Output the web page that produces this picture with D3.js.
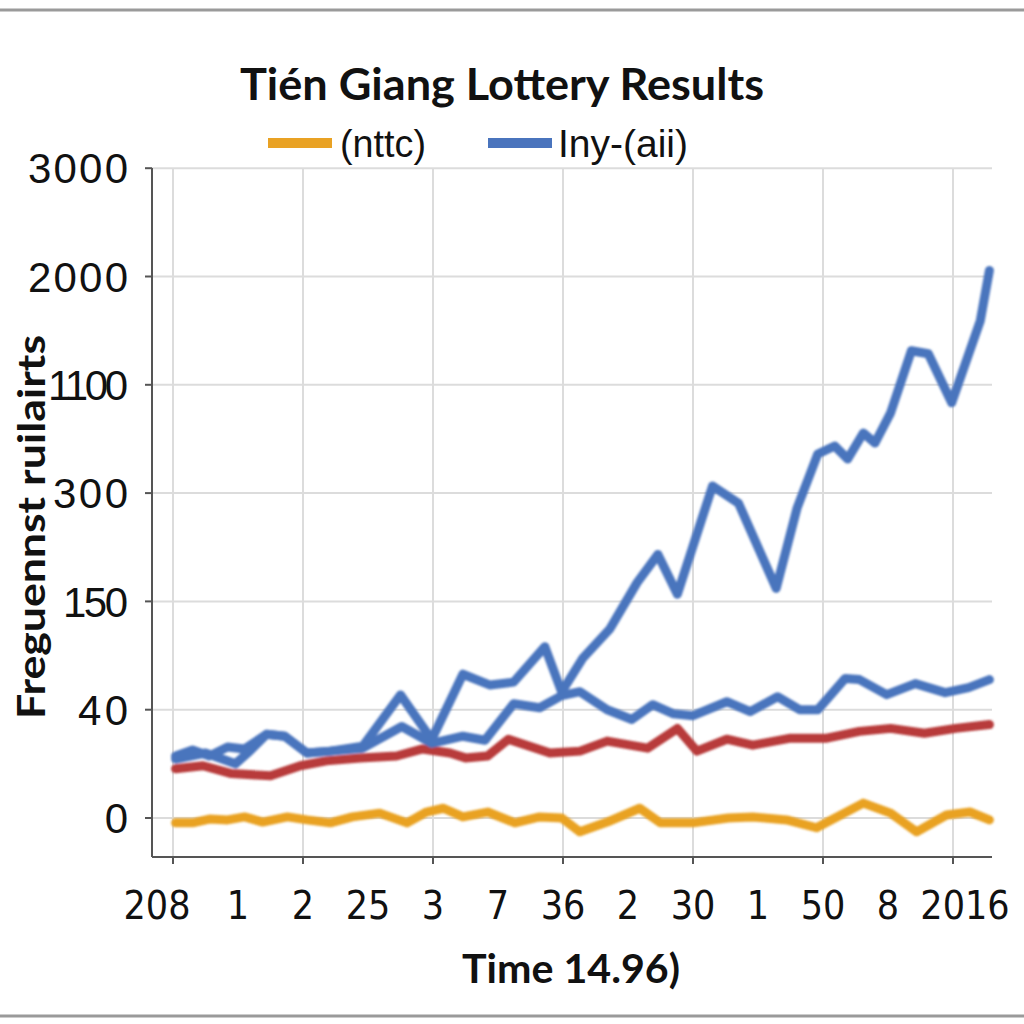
<!DOCTYPE html>
<html>
<head>
<meta charset="utf-8">
<script src="https://cdn.jsdelivr.net/npm/d3@7"></script>
<style>
  html, body { margin: 0; padding: 0; background: #fff; }
  svg { display: block; }
</style>
</head>
<body>
<script>
// ---- Data ----
const titleText = "Tién Giang Lottery Results";
const legendLabels = ["(nttc)", "Iny-(aii)"];
const xTitle = "Time 14.96)";
const yTitle = "Freguennst ruilairts";
const xLabels = ["208","1","2","25","3","7","36","2","30","1","50","8","2016"];
const yTicks = [0, 40, 150, 300, 1100, 2000, 3000];

// [time, value]
const seriesOrange = [[0.2,-1.8],[1.5,-1.8],[2.8,-0.4],[4.2,-0.7],[5.5,0.4],[6.9,-1.5],[8.8,0.4],[10.3,-0.7],[12.1,-1.8],[13.8,0.4],[15.9,1.8],[18.0,-1.8],[19.5,2.2],[20.8,3.6],[22.3,0.4],[24.2,2.2],[26.3,-1.8],[28.2,0.4],[29.9,0],[31.3,-5.1],[33.4,-1.5],[35.9,3.6],[37.5,-1.8],[40.0,-1.8],[42.7,0],[44.6,0.4],[47.2,-0.7],[49.5,-3.6],[53.1,5.5],[55.2,1.8],[57.2,-5.1],[59.5,1.1],[61.3,2.2],[62.8,-0.7]];
const seriesRed = [[0.2,18.2],[2.3,19.3],[4.5,16.4],[7.5,15.6],[9.8,19.3],[11.8,21.1],[14.4,22.2],[17.2,22.9],[19.2,25.5],[21.3,24.0],[22.5,22.2],[24.2,22.9],[25.8,29.1],[26.9,27.3],[29.0,24.0],[31.3,24.7],[33.4,28.4],[36.5,25.8],[38.8,33.1],[40.3,24.7],[42.6,29.1],[44.6,26.9],[47.5,29.5],[50.3,29.5],[52.8,32.0],[55.2,33.1],[57.8,31.3],[60.2,33.1],[62.8,34.5]];
const seriesBlueLow = [[0.2,21.8],[2.5,24.0],[4.8,20.0],[5.9,24.7],[7.2,30.9],[8.6,30.2],[10.3,24.0],[12.1,24.7],[14.6,25.8],[17.6,33.8],[19.9,27.6],[22.3,30.2],[24.0,28.7],[26.2,46.1],[28.2,42.0],[29.9,54.3],[31.3,58.3],[33.4,40.0],[35.3,36.4],[36.9,45.1],[38.5,38.5],[40.0,37.8],[42.6,48.1],[44.4,39.3],[46.5,53.2],[48.2,40.0],[49.6,40.0],[51.7,71.6],[52.8,70.6],[54.9,55.3],[57.1,66.5],[59.4,57.3],[61.2,62.4],[62.8,70.6]];
const seriesBlueHigh = [[0.2,22.9],[1.5,25.1],[2.8,22.9],[4.2,26.2],[5.5,25.5],[7.2,30.9],[8.6,30.2],[10.3,24.0],[12.1,24.7],[14.6,26.5],[17.5,55],[19.9,29],[22.3,76],[24.4,65],[26.2,68],[28.6,104],[29.9,58],[31.5,92],[33.6,122],[35.7,176],[37.3,215],[38.8,160],[41.5,352],[43.5,286],[46.4,168],[48.0,279],[49.6,589],[50.9,648],[51.9,552],[53.1,744],[54.0,670],[55.2,893],[56.8,1383],[58.1,1358],[59.9,967],[62.1,1633],[62.8,2056]];

// ---- Layout ----
const W = 1024, H = 1024;
const plotLeft = 152, plotRight = 992, plotTop = 168, plotBottom = 857;
const yZero = 818, yStep = 108.3;

const svg = d3.select("body").append("svg").attr("width", W).attr("height", H);

const defs = svg.append("defs");
defs.append("filter").attr("id", "soft").append("feGaussianBlur").attr("stdDeviation", 0.8);

// outer frame lines
svg.append("line").attr("x1", 0).attr("x2", W).attr("y1", 10).attr("y2", 10)
  .attr("stroke", "#9a9a9a").attr("stroke-width", 3);
svg.append("line").attr("x1", 0).attr("x2", W).attr("y1", 1016).attr("y2", 1016)
  .attr("stroke", "#9a9a9a").attr("stroke-width", 3);

const x = d3.scaleLinear().domain([0, 60]).range([173, 953]);
const y = d3.scaleLinear().domain(yTicks).range(yTicks.map((d, i) => yZero - i * yStep));

// gridlines
const grid = svg.append("g");
grid.selectAll("line.h").data(yTicks).join("line")
  .attr("x1", plotLeft).attr("x2", plotRight)
  .attr("y1", d => y(d)).attr("y2", d => y(d))
  .attr("stroke", "#dcdcdc").attr("stroke-width", 2);
const vTicks = d3.range(0, 61, 10);
grid.selectAll("line.v").data(vTicks).join("line")
  .attr("x1", d => x(d)).attr("x2", d => x(d))
  .attr("y1", plotTop).attr("y2", plotBottom)
  .attr("stroke", "#dcdcdc").attr("stroke-width", 2);

// axes
const axisColor = "#555";
svg.append("line").attr("x1", plotLeft).attr("x2", plotLeft).attr("y1", plotTop).attr("y2", plotBottom)
  .attr("stroke", axisColor).attr("stroke-width", 2);
svg.append("line").attr("x1", plotLeft).attr("x2", plotRight).attr("y1", plotBottom).attr("y2", plotBottom)
  .attr("stroke", axisColor).attr("stroke-width", 2);
svg.selectAll("line.yt").data(yTicks).join("line")
  .attr("x1", plotLeft - 7).attr("x2", plotLeft)
  .attr("y1", d => y(d)).attr("y2", d => y(d))
  .attr("stroke", axisColor).attr("stroke-width", 2);
svg.selectAll("line.xt").data(vTicks).join("line")
  .attr("x1", d => x(d)).attr("x2", d => x(d))
  .attr("y1", plotBottom).attr("y2", plotBottom + 7)
  .attr("stroke", axisColor).attr("stroke-width", 2);

// y labels (proportional digit widths: "1" narrower)
const labelWidth = s => String(s).split("").reduce((a, c) => a + (c === "1" ? 15 : 25), 0);
svg.selectAll("text.yl").data(yTicks).join("text")
  .attr("x", 128).attr("y", d => y(d)).attr("dy", "0.36em")
  .attr("text-anchor", "end")
  .attr("font-family", "Liberation Sans, Arial, sans-serif")
  .attr("font-size", 42).attr("fill", "#111")
  .attr("textLength", d => labelWidth(d)).attr("lengthAdjust", "spacing")
  .text(d => d);

// x labels
const xOffsets = xLabels.map((d, i) => i === 0 ? -16 : (i === xLabels.length - 1 ? 12 : 0));
svg.selectAll("text.xl").data(xLabels).join("text")
  .attr("x", (d, i) => x(i * 5) + xOffsets[i]).attr("y", 905).attr("dy", "0.36em")
  .attr("text-anchor", "middle")
  .attr("font-family", "Liberation Sans Narrow, DejaVu Sans Condensed, Arial, sans-serif")
  .attr("font-size", 39).attr("fill", "#111")
  .text(d => d);

// lines
const line = d3.line().x(d => x(d[0])).y(d => y(d[1]));
const series = [
  { data: seriesOrange, color: "#e9a224" },
  { data: seriesRed, color: "#b83b3b" },
  { data: seriesBlueLow, color: "#4a74bd" },
  { data: seriesBlueHigh, color: "#4a74bd" }
];
svg.append("g").attr("filter", "url(#soft)")
  .selectAll("path").data(series).join("path")
  .attr("d", d => line(d.data))
  .attr("fill", "none").attr("stroke", d => d.color)
  .attr("stroke-width", 9).attr("stroke-linejoin", "round").attr("stroke-linecap", "round");

// title
svg.append("text").attr("x", 502).attr("y", 100)
  .attr("text-anchor", "middle")
  .attr("font-family", "Lato, Open Sans, sans-serif").attr("font-weight", "bold")
  .attr("font-size", 44).attr("fill", "#111")
  .attr("textLength", 524).attr("lengthAdjust", "spacingAndGlyphs")
  .text(titleText);

// legend
const legendItems = [
  { label: legendLabels[0], color: "#e9a224", x0: 268, tx: 340, tl: 86 },
  { label: legendLabels[1], color: "#4a74bd", x0: 488, tx: 558, tl: 130 }
];
const lg = svg.append("g");
legendItems.forEach(it => {
  lg.append("line").attr("x1", it.x0).attr("x2", it.x0 + 64).attr("y1", 143).attr("y2", 143)
    .attr("stroke", it.color).attr("stroke-width", 10);
  lg.append("text").attr("x", it.tx).attr("y", 143).attr("dy", "0.36em")
    .attr("font-family", "Liberation Sans Narrow, Arial, sans-serif")
    .attr("font-size", 38).attr("fill", "#111")
    .attr("textLength", it.tl).attr("lengthAdjust", "spacingAndGlyphs")
    .text(it.label);
});

// x title
svg.append("text").attr("x", 571).attr("y", 983)
  .attr("text-anchor", "middle")
  .attr("font-family", "Lato, Open Sans, sans-serif").attr("font-weight", "bold")
  .attr("font-size", 40).attr("fill", "#111")
  .attr("textLength", 218).attr("lengthAdjust", "spacingAndGlyphs")
  .text(xTitle);

// y title
svg.append("text").attr("transform", "translate(45,527) rotate(-90)")
  .attr("text-anchor", "middle")
  .attr("font-family", "Lato, Open Sans, sans-serif").attr("font-weight", "bold")
  .attr("font-size", 38).attr("fill", "#111")
  .attr("textLength", 384).attr("lengthAdjust", "spacingAndGlyphs")
  .text(yTitle);
</script>
</body>
</html>
